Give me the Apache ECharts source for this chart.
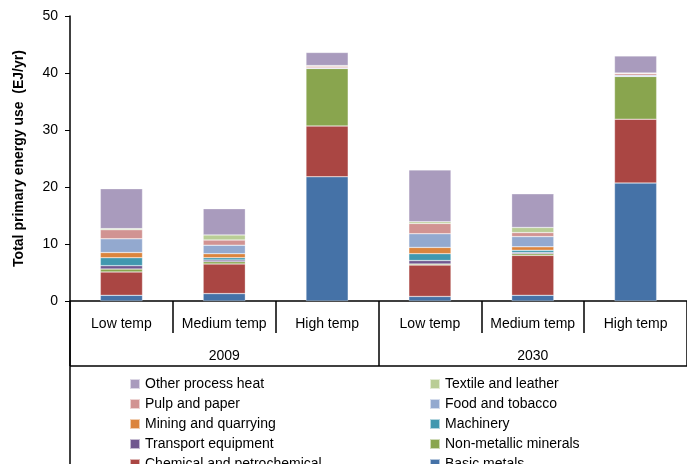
<!DOCTYPE html>
<html>
<head>
<meta charset="utf-8">
<script src="https://cdn.jsdelivr.net/npm/echarts@6/dist/echarts.min.js"></script>
<style>html,body{margin:0;padding:0;background:#fff}#c{width:687px;height:464px}</style>
</head>
<body>
<div id="c"></div>
<script>
const categories = ['Low temp', 'Medium temp', 'High temp', 'Low temp', 'Medium temp', 'High temp'];
const years = ['2009', '2030'];
// values per category, EJ/yr
const basicMetals   = [1.0, 1.3, 21.8, 0.8, 1.0, 20.7];
const chemical      = [4.1, 5.2, 8.9, 5.5, 7.0, 11.2];
const nonMetallic   = [0.5, 0.4, 10.1, 0.2, 0.3, 7.5];
const transport     = [0.6, 0.3, 0, 0.6, 0.2, 0];
const machinery     = [1.4, 0.4, 0, 1.2, 0.4, 0];
const mining        = [0.9, 0.7, 0, 1.1, 0.6, 0];
const foodTobacco   = [2.4, 1.5, 0.1, 2.4, 1.8, 0.2];
const pulpPaper     = [1.6, 0.9, 0.3, 1.8, 0.7, 0.3];
const textile       = [0.2, 0.9, 0.1, 0.3, 0.9, 0.1];
const otherHeat     = [7.0, 4.6, 2.3, 9.1, 5.9, 3.0];

const seriesDefs = [
  ['Basic metals', basicMetals, '#4572a7'],
  ['Chemical and petrochemical', chemical, '#aa4643'],
  ['Non-metallic minerals', nonMetallic, '#89a54e'],
  ['Transport equipment', transport, '#71588f'],
  ['Machinery', machinery, '#4198af'],
  ['Mining and quarrying', mining, '#db843d'],
  ['Food and tobacco', foodTobacco, '#93a9cf'],
  ['Pulp and paper', pulpPaper, '#d19392'],
  ['Textile and leather', textile, '#b9cd96'],
  ['Other process heat', otherHeat, '#a99bbd']
];
// legend layout: left column and right column, top to bottom
const legendLeft  = ['Other process heat', 'Pulp and paper', 'Mining and quarrying', 'Transport equipment', 'Chemical and petrochemical'];
const legendRight = ['Textile and leather', 'Food and tobacco', 'Machinery', 'Non-metallic minerals', 'Basic metals'];

const font = 'Liberation Sans';
const chart = echarts.init(document.getElementById('c'));
const series = seriesDefs.map(d => ({
  name: d[0], type: 'bar', stack: 'all', data: d[1], barWidth: '41%',
  itemStyle: {color: d[2], borderColor: 'rgba(255,255,255,0.6)', borderWidth: 0.5}
}));

const legendText = {fontFamily: font, fontSize: 14, color: '#000'};
const legends = [];
[[legendLeft, 124], [legendRight, 424]].forEach(([names, x]) => {
  names.forEach((n, i) => {
    legends.push({left: x, top: 372 + i * 20, itemWidth: 10, itemHeight: 10, itemGap: 4,
      textStyle: legendText, icon: 'rect', data: [n], selectedMode: false});
  });
});

chart.setOption({
  animation: false,
  grid: {left: 70, right: 0, top: 16, bottom: 163},
  legend: legends,
  xAxis: [
    {type: 'category', data: categories, position: 'bottom',
     axisLine: {lineStyle: {color: '#000', width: 1.5}},
     axisTick: {show: true, interval: 0, length: 32, lineStyle: {color: '#000', width: 1.5}},
     axisLabel: {interval: 0, fontFamily: font, fontSize: 14, color: '#000', margin: 16}},
    {type: 'category', data: years, position: 'bottom',
     axisLine: {show: false},
     axisTick: {show: true, interval: 0, length: 65, lineStyle: {color: '#000', width: 1.5}},
     axisLabel: {interval: 0, fontFamily: font, fontSize: 14, color: '#000', margin: 48}}
  ],
  yAxis: {type: 'value', min: 0, max: 50, interval: 10,
    name: 'Total primary energy use  (EJ/yr)', nameLocation: 'middle', nameGap: 44,
    nameTextStyle: {fontFamily: font, fontSize: 14, fontWeight: 'bold', color: '#000'},
    axisLine: {show: true, lineStyle: {color: '#000', width: 1.5}},
    axisTick: {show: true, length: 5, lineStyle: {color: '#000'}},
    splitLine: {show: false},
    axisLabel: {fontFamily: font, fontSize: 14, color: '#000', margin: 12}},
  graphic: [
    {type: 'line', shape: {x1: 70, y1: 366, x2: 687, y2: 366}, style: {stroke: '#000', lineWidth: 1.5}},
    {type: 'line', shape: {x1: 70, y1: 301, x2: 70, y2: 464}, style: {stroke: '#000', lineWidth: 1.5}}
  ],
  series: series
});
</script>
</body>
</html>
